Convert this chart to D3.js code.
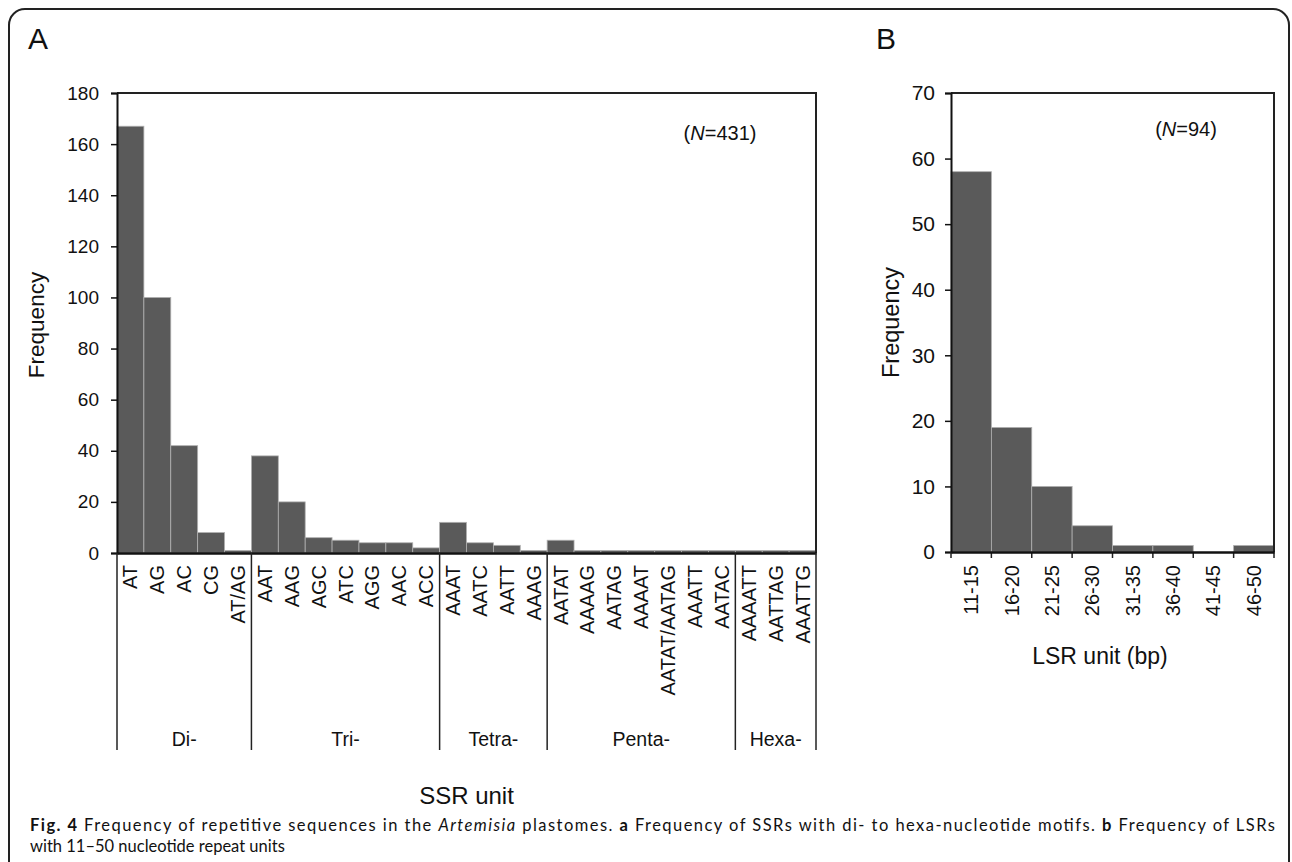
<!DOCTYPE html>
<html lang="en">
<head>
  <meta charset="UTF-8">
  <title>Repetitive sequences in Artemisia plastomes</title>
  <script src="https://d3js.org/d3.v7.min.js"></script>
  <style>
    body { margin: 0; background: #fff; }
    svg text { font-family: "Liberation Sans", Arial, sans-serif; fill: #111; }
    .caption text { font-family: Lato, "Open Sans", sans-serif; }
    .axis path, .axis line { stroke: #111; }
  </style>
</head>
<body>
  <svg width="1292" height="862"></svg>

  <script>
    // panel A: SSR motifs
    const ssrUnits = ['AT', 'AG', 'AC', 'CG', 'AT/AG',
      'AAT', 'AAG', 'AGC', 'ATC', 'AGG', 'AAC', 'ACC',
      'AAAT', 'AATC', 'AATT', 'AAAG',
      'AATAT', 'AAAAG', 'AATAG', 'AAAAT', 'AATAT/AATAG', 'AAATT', 'AATAC',
      'AAAATT', 'AATTAG', 'AAATTG'];
    const ssrFreq = [167, 100, 42, 8, 1,
      38, 20, 6, 5, 4, 4, 2,
      12, 4, 3, 1,
      5, 1, 1, 1, 1, 1, 1,
      1, 1, 1];
    const ssrGroups = ['Di-', 'Tri-', 'Tetra-', 'Penta-', 'Hexa-'];
    const ssrGroupSizes = [5, 7, 4, 7, 3];
    const ssrTicks = [0, 20, 40, 60, 80, 100, 120, 140, 160, 180];

    // panel B: LSR lengths
    const lsrBins = ['11-15', '16-20', '21-25', '26-30', '31-35', '36-40', '41-45', '46-50'];
    const lsrFreq = [58, 19, 10, 4, 1, 1, 0, 1];
    const lsrTicks = [0, 10, 20, 30, 40, 50, 60, 70];

    const svg = d3.select('svg');
    const barFill = '#5a5a5a';

    // outer rounded frame
    svg.append('rect')
      .attr('x', 9).attr('y', 9)
      .attr('width', 1280).attr('height', 880)
      .attr('rx', 16)
      .attr('fill', 'none')
      .attr('stroke', '#222')
      .attr('stroke-width', 2);

    // ---------- panel A ----------
    const a = { left: 117, right: 816, top: 93, bottom: 553 };

    const xA = d3.scaleBand()
      .domain(ssrUnits)
      .range([a.left, a.right])
      .padding(0);

    const yA = d3.scaleLinear()
      .domain([0, 180])
      .range([a.bottom, a.top]);

    svg.append('text')
      .attr('x', 28).attr('y', 49)
      .style('font-size', '30px')
      .text('A');

    svg.append('g').selectAll('rect')
      .data(ssrFreq)
      .join('rect')
      .attr('x', (d, i) => xA(ssrUnits[i]))
      .attr('width', xA.bandwidth())
      .attr('y', d => yA(d))
      .attr('height', d => a.bottom - yA(d))
      .attr('fill', barFill)
      .attr('stroke', '#b0b0b0')
      .attr('stroke-width', 0.8);

    // plot frame (top / right)
    svg.append('path')
      .attr('d', `M${a.left},${a.top}H${a.right}V${a.bottom}`)
      .attr('fill', 'none')
      .attr('stroke', '#222')
      .attr('stroke-width', 2);

    svg.append('g')
      .attr('class', 'axis')
      .attr('transform', `translate(${a.left},0)`)
      .call(d3.axisLeft(yA).tickValues(ssrTicks).tickSize(6).tickPadding(12))
      .call(g => g.select('.domain').attr('stroke-width', 2))
      .call(g => g.selectAll('line').attr('stroke-width', 1.5))
      .call(g => g.selectAll('text').style('font-size', '19px'));

    // category axis without ticks
    svg.append('g')
      .attr('class', 'axis')
      .attr('transform', `translate(0,${a.bottom})`)
      .call(d3.axisBottom(xA).tickSize(0).tickPadding(0))
      .call(g => g.select('.domain').attr('stroke-width', 2.5))
      .call(g => g.selectAll('text')
        .style('font-size', '20px')
        .attr('text-anchor', 'end')
        .attr('dy', null)
        .attr('transform', 'translate(7,12) rotate(-90)'));

    // group separators and group labels
    let start = 0;
    const bounds = [0];
    ssrGroupSizes.forEach(n => { start += n; bounds.push(start); });
    const edgeX = i => i < ssrUnits.length ? xA(ssrUnits[i]) : a.right;

    svg.append('g').selectAll('line')
      .data(bounds)
      .join('line')
      .attr('x1', d => edgeX(d)).attr('x2', d => edgeX(d))
      .attr('y1', a.bottom).attr('y2', 750)
      .attr('stroke', '#222')
      .attr('stroke-width', 1.5);

    svg.append('g').selectAll('text')
      .data(ssrGroups)
      .join('text')
      .attr('x', (d, i) => (edgeX(bounds[i]) + edgeX(bounds[i + 1])) / 2)
      .attr('y', 746)
      .attr('text-anchor', 'middle')
      .style('font-size', '19.5px')
      .text(d => d);

    svg.append('text')
      .attr('transform', `translate(44,${(a.top + a.bottom) / 2 + 2}) rotate(-90)`)
      .attr('text-anchor', 'middle')
      .style('font-size', '22.5px')
      .text('Frequency');

    svg.append('text')
      .attr('x', (a.left + a.right) / 2).attr('y', 804)
      .attr('text-anchor', 'middle')
      .style('font-size', '24px')
      .text('SSR unit');

    const nA = svg.append('text')
      .attr('x', 720).attr('y', 140)
      .attr('text-anchor', 'middle')
      .style('font-size', '20px');
    nA.append('tspan').text('(');
    nA.append('tspan').style('font-style', 'italic').text('N');
    nA.append('tspan').text('=431)');

    // ---------- panel B ----------
    const b = { left: 951, right: 1274, top: 93, bottom: 552 };

    const xB = d3.scaleBand()
      .domain(lsrBins)
      .range([b.left, b.right])
      .padding(0);

    const yB = d3.scaleLinear()
      .domain([0, 70])
      .range([b.bottom, b.top]);

    svg.append('text')
      .attr('x', 876).attr('y', 49)
      .style('font-size', '30px')
      .text('B');

    svg.append('g').selectAll('rect')
      .data(lsrFreq)
      .join('rect')
      .attr('x', (d, i) => xB(lsrBins[i]))
      .attr('width', xB.bandwidth())
      .attr('y', d => yB(d))
      .attr('height', d => b.bottom - yB(d))
      .attr('fill', barFill)
      .attr('stroke', '#b0b0b0')
      .attr('stroke-width', 0.8);

    svg.append('path')
      .attr('d', `M${b.left},${b.top}H${b.right}V${b.bottom}`)
      .attr('fill', 'none')
      .attr('stroke', '#222')
      .attr('stroke-width', 2);

    svg.append('g')
      .attr('class', 'axis')
      .attr('transform', `translate(${b.left},0)`)
      .call(d3.axisLeft(yB).tickValues(lsrTicks).tickSize(6).tickPadding(10))
      .call(g => g.select('.domain').attr('stroke-width', 2))
      .call(g => g.selectAll('line').attr('stroke-width', 1.5))
      .call(g => g.selectAll('text').style('font-size', '21px'));

    // bin edge ticks
    const binEdges = lsrBins.map(d => xB(d)).concat([b.right]);
    svg.append('g').selectAll('line')
      .data(binEdges)
      .join('line')
      .attr('x1', d => d).attr('x2', d => d)
      .attr('y1', b.bottom).attr('y2', b.bottom + 6)
      .attr('stroke', '#222')
      .attr('stroke-width', 1.5);

    svg.append('g')
      .attr('class', 'axis')
      .attr('transform', `translate(0,${b.bottom})`)
      .call(d3.axisBottom(xB).tickSize(0).tickPadding(0))
      .call(g => g.select('.domain').attr('stroke-width', 2.5))
      .call(g => g.selectAll('text')
        .style('font-size', '20px')
        .attr('text-anchor', 'end')
        .attr('dy', null)
        .attr('transform', 'translate(7,13) rotate(-90)'));

    svg.append('text')
      .attr('transform', `translate(899,${(b.top + b.bottom) / 2}) rotate(-90)`)
      .attr('text-anchor', 'middle')
      .style('font-size', '23.5px')
      .text('Frequency');

    svg.append('text')
      .attr('x', 1100).attr('y', 664)
      .attr('text-anchor', 'middle')
      .style('font-size', '23px')
      .text('LSR unit (bp)');

    const nB = svg.append('text')
      .attr('x', 1186).attr('y', 136)
      .attr('text-anchor', 'middle')
      .style('font-size', '20px');
    nB.append('tspan').text('(');
    nB.append('tspan').style('font-style', 'italic').text('N');
    nB.append('tspan').text('=94)');

    // ---------- caption ----------
    const cap = svg.append('g').attr('class', 'caption');
    const line1 = cap.append('text')
      .attr('x', 30).attr('y', 831)
      .attr('textLength', 1245)
      .attr('lengthAdjust', 'spacing')
      .style('font-size', '16.5px');
    line1.append('tspan').style('font-weight', 'bold').text('Fig. 4');
    line1.append('tspan').text(' Frequency of repetitive sequences in the ');
    line1.append('tspan').style('font-style', 'italic').text('Artemisia');
    line1.append('tspan').text(' plastomes. ');
    line1.append('tspan').style('font-weight', 'bold').text('a');
    line1.append('tspan').text(' Frequency of SSRs with di- to hexa-nucleotide motifs. ');
    line1.append('tspan').style('font-weight', 'bold').text('b');
    line1.append('tspan').text(' Frequency of LSRs');

    cap.append('text')
      .attr('x', 30).attr('y', 852)
      .style('font-size', '16.5px')
      .text('with 11–50 nucleotide repeat units');
  </script>
</body>
</html>
